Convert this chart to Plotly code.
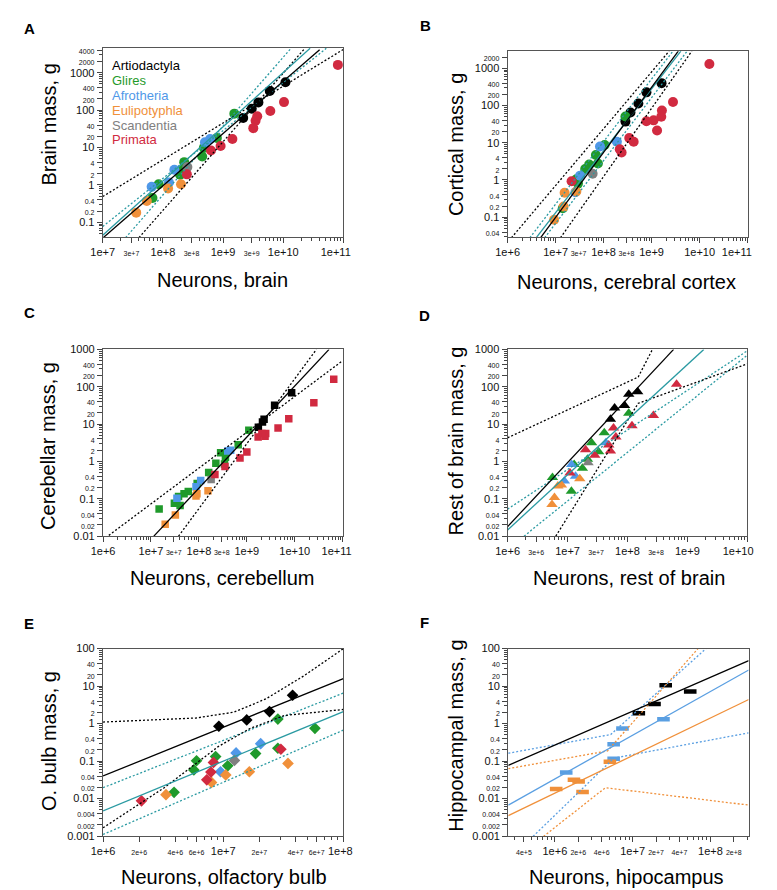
import math
import plotly.graph_objects as go

# ---------------- data (neurons, mass in g) ----------------
# A: whole brain
A_ARTIO = [(1.09e10, 555), (5.98e9, 327), (3.87e9, 161), (3.0e9, 109), (2.16e9, 62)]
A_GLIRES = [(1.54e9, 80.5), (7.9e8, 17.9), (4.8e8, 9.8), (4.5e8, 5.75), (2.26e8, 4.07),
            (1.93e8, 1.88), (2.13e8, 2.55), (8.5e7, 1.04), (6.7e7, 0.446)]
A_AFRO = [(6.1e8, 16.9), (5.0e8, 13.8), (1.55e8, 2.55), (1.26e8, 1.16), (6.5e7, 0.89)]
A_EULI = [(2.0e8, 1.04), (1.22e8, 0.80), (5.4e7, 0.372), (3.6e7, 0.182)]
A_SCAND = [(2.55e8, 3.0)]
A_PRIM = [(8.1e10, 1620), (1.03e10, 164), (6.1e9, 95), (3.7e9, 69), (3.47e9, 52), (3.18e9, 33),
          (1.43e9, 16.9), (9.1e8, 11.0), (6.3e8, 8.3), (2.5e8, 1.92)]

# B: cerebral cortex
B_ARTIO = [(1.61e9, 400), (7.8e8, 226), (5.3e8, 113), (3.63e8, 65), (2.85e8, 37)]
B_GLIRES = [(2.85e8, 51), (1.05e8, 8.7), (6.9e7, 4.7), (7.6e7, 2.79), (5.0e7, 2.62), (4.13e7, 1.97),
            (2.7e7, 1.05), (2.92e7, 0.80), (1.41e7, 0.175)]
B_AFRO = [(1.89e8, 10.7), (8.4e7, 7.9), (3.24e7, 1.31), (2.58e7, 0.47)]
B_EULI = [(1.54e7, 0.455), (2.7e7, 0.49), (1.47e7, 0.193), (9.3e6, 0.086)]
B_SCAND = [(5.9e7, 1.48)]
B_PRIM = [(1.6e10, 1303), (2.79e9, 125), (1.64e9, 73.8), (1.59e9, 50), (1.10e9, 40), (7.8e8, 37.7),
          (1.30e9, 21.3), (3.42e8, 13.4), (4.23e8, 10.7), (2.17e8, 6.7), (2.37e8, 5.46), (2.15e7, 0.93)]

# C: cerebellum
C_ARTIO = [(8.6e9, 69), (3.8e9, 31.9), (2.29e9, 13.6), (2.12e9, 11.4), (1.74e9, 8.2)]
C_GLIRES = [(1.1e9, 6.8), (6.6e8, 2.8), (2.84e8, 1.72), (3.58e8, 1.30), (3.42e8, 0.85), (2.26e8, 0.90),
            (1.6e8, 0.51), (9.2e7, 0.256), (6.0e7, 0.157), (4.9e7, 0.136), (3.76e7, 0.116),
            (3.08e7, 0.076), (4.05e7, 0.066), (1.48e7, 0.053)]
C_AFRO = [(4.0e8, 1.9), (4.6e8, 2.0), (1.09e8, 0.31), (8.7e7, 0.21), (3.48e7, 0.103)]
C_EULI = [(1.55e8, 0.164), (9.1e7, 0.136), (8.7e7, 0.119), (3.23e7, 0.0366), (1.98e7, 0.0207)]
C_SCAND = [(1.8e8, 0.33)]
C_PRIM = [(6.5e10, 158), (2.5e10, 37.5), (7.5e9, 13.9), (4.48e9, 7.9), (2.48e9, 5.6), (2.4e9, 4.7),
          (2.06e9, 5.6), (1.72e9, 4.55), (1.0e9, 1.8), (7.2e8, 1.24), (3.5e8, 0.73), (2.16e8, 0.45)]

# D: rest of brain
D_ARTIO = [(1.48e8, 73), (1.05e8, 63.5), (8.95e7, 31.3), (6.1e7, 27.1), (5.2e7, 13.6)]
D_GLIRES = [(1.05e8, 19.6), (4.1e7, 5.9), (2.52e7, 3.16), (3.3e7, 1.83), (2.15e7, 1.15), (1.77e7, 0.66),
            (1.29e7, 0.83), (5.6e6, 0.37), (1.16e7, 0.16)]
D_AFRO = [(4.36e7, 3.16), (1.17e7, 0.83), (1.36e7, 0.40), (8.85e6, 0.30)]
D_EULI = [(1.6e7, 0.347), (7.9e6, 0.236), (6.9e6, 0.222), (6.05e6, 0.109), (5.5e6, 0.070)]
D_SCAND = [(2.2e7, 0.92)]
D_PRIM = [(6.6e8, 117), (2.71e8, 17), (1.19e8, 9.1), (5.85e7, 7.9), (6.4e7, 4.55), (4.87e7, 2.74),
          (5.2e7, 1.9), (2.0e7, 2.07), (2.85e7, 1.46), (1.1e7, 0.49)]

# E: olfactory bulb
E_ARTIO = [(3.78e7, 5.7), (2.43e7, 2.1), (1.57e7, 1.25), (9.2e6, 0.85)]
E_GLIRES = [(2.85e7, 1.32), (5.8e7, 0.75), (2.85e7, 0.22), (1.86e7, 0.159), (8.65e6, 0.132),
            (6.0e6, 0.102), (1.09e7, 0.075), (5.7e6, 0.058), (3.9e6, 0.0147)]
E_AFRO = [(2.05e7, 0.291), (1.28e7, 0.165), (9.5e6, 0.052)]
E_EULI = [(3.46e7, 0.0867), (1.65e7, 0.052), (1.05e7, 0.0427), (8.0e6, 0.0269), (3.34e6, 0.0127)]
E_SCAND = [(1.24e7, 0.104)]
E_PRIM = [(3.02e7, 0.207), (8.3e6, 0.092), (7.9e6, 0.051), (7.3e6, 0.0316), (2.09e6, 0.0087)]

# F: hippocampus
F_ARTIO = [(2.66e7, 10.6), (5.5e7, 7.2), (1.91e7, 3.35), (1.2e7, 1.9)]
F_AFRO = [(2.49e7, 1.30), (7.4e6, 0.74), (5.7e6, 0.28), (5.7e6, 0.115), (1.4e6, 0.050)]
F_EULI = [(5.1e6, 0.096), (1.76e6, 0.032), (2.02e6, 0.0285), (1.04e6, 0.018), (2.27e6, 0.015)]

# fitted lines and limits
A_FIT_ARTIO = [(1e7, 0.038), (4.03e10, 4140)]
A_FIT_ALL = [(1e7, 0.045), (2.8e10, 4500)]
A_LIM_ARTIO = [[(1e7, 0.49), (1e11, 4200)], [(4.0e7, 0.039), (2.3e10, 4500)]]
A_LIM_ALL = [[(1e7, 0.078), (5.2e10, 4500)], [(2.4e7, 0.039), (1.35e10, 4500)]]

B_FIT_ARTIO = [(4.85e6, 0.028), (3.6e9, 2900)]
B_FIT_ALL = [(3.93e6, 0.028), (4.07e9, 2900)]
B_LIM_ARTIO = [[(1.2e6, 0.028), (2.32e9, 2900)], [(1.26e7, 0.028), (6.9e9, 2900)]]
B_LIM_ALL = [[(2.9e6, 0.028), (2.79e9, 2900)], [(5.9e6, 0.028), (5.5e9, 2900)]]

C_FIT_ARTIO = [(1.15e7, 0.01), (5.2e10, 1000)]
C_LIM_ARTIO = [[(1.32e6, 0.0105), (1e11, 500)], [(3.76e7, 0.01), (2.83e10, 1000)]]

D_FIT_ARTIO = [(1e6, 0.018), (5.9e8, 1000)]
D_FIT_ALL = [(1e6, 0.0147), (1.88e9, 1000)]
D_LIM_ARTIO = [[(1e6, 4.3), (1.51e8, 182), (2.61e8, 1000)], [(6.37e6, 0.01), (1.51e8, 36), (1e10, 410)]]
D_LIM_ALL = [[(1e6, 0.053), (1e10, 920)], [(1.88e6, 0.01), (1e10, 700)]]

E_FIT_ARTIO = [(1e6, 0.040), (1e8, 15.9)]
E_FIT_ALL = [(1e6, 0.0047), (1e8, 2.1)]
E_LIM_ARTIO = [[(1e6, 1.10), (5.93e6, 1.41), (1.23e7, 2.02), (2.26e7, 4.54), (4.68e7, 18.7), (1e8, 100)],
               [(1e6, 0.00166), (3.23e6, 0.0195), (9.08e6, 0.243), (1.67e7, 0.738), (3.25e7, 1.65), (1e8, 2.38)]]
E_LIM_ALL = [[(1e6, 0.0195), (1e8, 6.5)], [(1e6, 0.0011), (1e8, 0.67)]]

F_FIT_ARTIO = [(2.52e5, 0.077), (3.11e8, 48)]
F_FIT_AFRO = [(2.52e5, 0.0067), (3.11e8, 26.9)]
F_FIT_EULI = [(2.52e5, 0.0035), (3.11e8, 4.4)]
F_LIM_AFRO = [[(2.52e5, 0.162), (5.22e6, 0.51), (8.75e7, 100)], [(5.24e5, 0.00098), (5.74e6, 0.12), (3.11e8, 0.567)]]
F_LIM_EULI = [[(2.52e5, 0.0627), (4.76e6, 0.187), (6.92e7, 100)], [(7.14e5, 0.00098), (4.46e6, 0.0195), (3.11e8, 0.0067)]]

# tick labels
A_XT = [1e7, 3e7, 1e8, 3e8, 1e9, 3e9, 1e10, 1e11]
A_XL = ['1e+7', '3e+7', '1e+8', '3e+8', '1e+9', '3e+9', '1e+10', '1e+11']
A_YT = [4000, 2000, 1000, 400, 200, 100, 40, 20, 10, 4, 2, 1, 0.4, 0.2, 0.1]
A_YL = ['4000', '2000', '1000', '400', '200', '100', '40', '20', '10', '4', '2', '1', '0.4', '0.2', '0.1']
B_XT = [1e6, 1e7, 3e7, 1e8, 3e8, 1e9, 1e10, 1e11]
B_XL = ['1e+6', '1e+7', '3e+7', '1e+8', '3e+8', '1e+9', '1e+10', '1e+11']
B_YT = [2000, 1000, 400, 200, 100, 40, 20, 10, 4, 2, 1, 0.4, 0.2, 0.1, 0.04]
B_YL = ['2000', '1000', '400', '200', '100', '40', '20', '10', '4', '2', '1', '0.4', '0.2', '0.1', '0.04']
C_XT = B_XT
C_XL = B_XL
C_YT = [1000, 400, 200, 100, 40, 20, 10, 4, 2, 1, 0.4, 0.2, 0.1, 0.04, 0.02, 0.01]
C_YL = ['1000', '400', '200', '100', '40', '20', '10', '4', '2', '1', '0.4', '0.2', '0.1', '0.04', '0.02', '0.01']
D_XT = [1e6, 3e6, 1e7, 3e7, 1e8, 3e8, 1e9, 1e10]
D_XL = ['1e+6', '3e+6', '1e+7', '3e+7', '1e+8', '3e+8', '1e+9', '1e+10']
E_XT = [1e6, 2e6, 4e6, 6e6, 1e7, 2e7, 4e7, 6e7, 1e8]
E_XL = ['1e+6', '2e+6', '4e+6', '6e+6', '1e+7', '2e+7', '4e+7', '6e+7', '1e+8']
E_YT = [100, 40, 20, 10, 4, 2, 1, 0.4, 0.2, 0.1, 0.04, 0.02, 0.01, 0.004, 0.002, 0.001]
E_YL = ['100', '40', '20', '10', '4', '2', '1', '0.4', '0.2', '0.1', '0.04', '0.02', '0.01', '0.004', '0.002', '0.001']
F_XT = [4e5, 1e6, 2e6, 4e6, 1e7, 2e7, 4e7, 1e8, 2e8]
F_XL = ['4e+5', '1e+6', '2e+6', '4e+6', '1e+7', '2e+7', '4e+7', '1e+8', '2e+8']

GROUPS = ['Artiodactyla', 'Glires', 'Afrotheria', 'Eulipotyphla', 'Scandentia', 'Primata']

# ---------------- style ----------------
FONT = 'Liberation Sans, Arial, Helvetica, sans-serif'
COL = {'Artiodactyla': '#000000', 'Glires': '#1f9a2b', 'Afrotheria': '#4f98e8',
       'Eulipotyphla': '#f0903a', 'Scandentia': '#808080', 'Primata': '#d12a40'}
TEAL = '#2a9aa2'
F_BLUE = '#5a9fe2'
F_ORANGE = '#f0903a'
W, H = 777, 890

fig = go.Figure()


def px_dom(a, b, vertical=False):
    if vertical:
        return [1 - b / H, 1 - a / H]
    return [a / W, b / W]


def tick_text(vals, labels, small, last_pad=0):
    out = []
    for v, t in zip(vals, labels):
        mant = v / 10 ** math.floor(math.log10(v) + 1e-9)
        out.append(t if abs(mant - 1) < 1e-6 else f'<span style="font-size:{small}px">{t}</span>')
    # the last label of some x axes sits left of its tick so it stays inside the page
    if last_pad:
        out[-1] = out[-1] + '&nbsp;' * last_pad
    return out


def minor_vals(lo, hi):
    return [m * 10.0 ** k for k in range(math.floor(lo) - 1, math.ceil(hi) + 1) for m in range(2, 10)
            if lo <= math.log10(m * 10.0 ** k) <= hi]


def add_pts(i, pts, color, symbol, size, name):
    fig.add_trace(go.Scatter(x=[p[0] for p in pts], y=[p[1] for p in pts], mode='markers',
                             xaxis=f'x{i}', yaxis=f'y{i}', name=name, showlegend=False,
                             marker=dict(color=color, symbol=symbol, size=size, line=dict(width=0))))


def add_bars(i, pts, color):
    fig.add_trace(go.Scatter(x=[p[0] for p in pts], y=[p[1] for p in pts], mode='markers',
                             xaxis=f'x{i}', yaxis=f'y{i}', showlegend=False,
                             marker=dict(symbol='line-ew', size=9, line=dict(width=4.5, color=color))))


def add_line(i, pts, color, dotted=False):
    fig.add_trace(go.Scatter(x=[p[0] for p in pts], y=[p[1] for p in pts], mode='lines',
                             xaxis=f'x{i}', yaxis=f'y{i}', showlegend=False, hoverinfo='skip',
                             line=dict(color=color, width=1.3, dash='2px,2px' if dotted else 'solid')))


panels = [
    # idx, x-dom px, y-dom px, xrange, yrange, xt, xl, yt, yl, symbol, size, pad, data
    (1, (87, 340), (34.5, 226), (7, 11), (-1.39, 3.66), A_XT, A_XL, A_YT, A_YL, 'circle', 10, 5,
     [A_ARTIO, A_GLIRES, A_AFRO, A_EULI, A_SCAND, A_PRIM]),
    (2, (512.7, 765), (37.7, 226), (6, 11), (-1.53, 3.46), B_XT, B_XL, B_YT, B_YL, 'circle', 10, 7,
     [B_ARTIO, B_GLIRES, B_AFRO, B_EULI, B_SCAND, B_PRIM]),
    (3, (87.3, 339.3), (340, 529.3), (6, 11), (-2, 3), C_XT, C_XL, C_YT, C_YL, 'square', 7.5, 4,
     [C_ARTIO, C_GLIRES, C_AFRO, C_EULI, C_SCAND, C_PRIM]),
    (4, (512.7, 764.7), (340, 529.3), (6, 10), (-2, 3), D_XT, D_XL, C_YT, C_YL, 'triangle-up', 10, 6,
     [D_ARTIO, D_GLIRES, D_AFRO, D_EULI, D_SCAND, D_PRIM]),
    (5, (87.3, 340), (643.3, 833.3), (6, 8), (-3, 2), E_XT, E_XL, E_YT, E_YL, 'diamond', 9, 2,
     [E_ARTIO, E_GLIRES, E_AFRO, E_EULI, E_SCAND, E_PRIM]),
    (6, (513.3, 766), (643.3, 833.3), (5.40, 8.49), (-3, 2), F_XT, F_XL, E_YT, E_YL, None, 0, 0, []),
]

layout = dict(width=W, height=H, margin=dict(l=0, r=0, t=0, b=0), paper_bgcolor='white',
              plot_bgcolor='white', font=dict(family=FONT, color='#111'))
for idx, xd, yd, xr, yr, xt, xl, yt, yl, sym, size, pad, data in panels:
    for grp, pts in zip(GROUPS, data):
        add_pts(idx, pts, COL[grp], sym, size, grp)
    axis_common = dict(type='log', showline=True, mirror=True, linecolor='#555', linewidth=1.2,
                       ticks='outside', ticklen=5, tickwidth=1, tickcolor='#444', showgrid=False,
                       zeroline=False, tickmode='array')
    layout[f'xaxis{idx}'] = dict(axis_common, domain=px_dom(*xd), range=list(xr), anchor=f'y{idx}',
                                 tickvals=xt, ticktext=tick_text(xt, xl, 7, pad), tickfont=dict(size=11),
                                 minor=dict(tickvals=minor_vals(*xr), ticklen=3, ticks='outside',
                                            tickcolor='#444'))
    layout[f'yaxis{idx}'] = dict(axis_common, domain=px_dom(*yd, vertical=True), range=list(yr),
                                 anchor=f'x{idx}', tickvals=yt, ticktext=tick_text(yt, yl, 7),
                                 tickfont=dict(size=11),
                                 minor=dict(tickvals=minor_vals(*yr), ticklen=3, ticks='outside',
                                            tickcolor='#444'))

# hippocampus bars
add_bars(6, F_ARTIO, COL['Artiodactyla'])
add_bars(6, F_AFRO, F_BLUE)
add_bars(6, F_EULI, F_ORANGE)

# lines on top of markers
for i, fit_a, fit_all, lim_a, lim_all in [
    (1, A_FIT_ARTIO, A_FIT_ALL, A_LIM_ARTIO, A_LIM_ALL),
    (2, B_FIT_ARTIO, B_FIT_ALL, B_LIM_ARTIO, B_LIM_ALL),
    (3, C_FIT_ARTIO, None, C_LIM_ARTIO, []),
    (4, D_FIT_ARTIO, D_FIT_ALL, D_LIM_ARTIO, D_LIM_ALL),
    (5, E_FIT_ARTIO, E_FIT_ALL, E_LIM_ARTIO, E_LIM_ALL),
]:
    for seg in lim_all:
        add_line(i, seg, TEAL, dotted=True)
    for seg in lim_a:
        add_line(i, seg, '#000', dotted=True)
    if fit_all:
        add_line(i, fit_all, TEAL)
    add_line(i, fit_a, '#000')

for seg in F_LIM_AFRO:
    add_line(6, seg, F_BLUE, dotted=True)
for seg in F_LIM_EULI:
    add_line(6, seg, F_ORANGE, dotted=True)
add_line(6, F_FIT_ARTIO, '#000')
add_line(6, F_FIT_AFRO, F_BLUE)
add_line(6, F_FIT_EULI, F_ORANGE)

ann = []
# panel letters
for letter, x, y in [('A', 10.5, 14.5), ('B', 426.7, 12), ('C', 9.5, 303), ('D', 425.7, 305.7),
                     ('E', 9, 617.5), ('F', 425.5, 616.7)]:
    ann.append(dict(text=f'<b>{letter}</b>', x=x / W, y=1 - y / H, xref='paper', yref='paper',
                    showarrow=False, font=dict(size=15, family=FONT, color='#000'),
                    xanchor='center', yanchor='middle'))
# axis titles
for text, x, y, rot in [
    ('Neurons, brain', 212.5, 270, 0), ('Brain mass, g', 30, 112.5, -90),
    ('Neurons, cerebral cortex', 637.5, 271.7, 0), ('Cortical mass, g', 458.3, 132, -90),
    ('Neurons, cerebellum', 212.5, 571.7, 0), ('Cerebellar mass, g', 30, 438.3, -90),
    ('Neurons, rest of brain', 640, 571.7, 0), ('Rest of brain mass, g', 458.3, 432.5, -90),
    ('Neurons, olfactory bulb', 215, 875, 0), ('O. bulb mass, g', 30, 737.5, -90),
    ('Neurons, hipocampus', 637.5, 875, 0), ('Hippocampal mass, g', 458.3, 731.7, -90),
]:
    ann.append(dict(text=text, x=x / W, y=1 - y / H, xref='paper', yref='paper', showarrow=False,
                    textangle=rot, font=dict(size=20, family=FONT, color='#000'),
                    xanchor='center', yanchor='middle'))
# legend of panel A
for k, grp in enumerate(GROUPS):
    ann.append(dict(text=grp, x=95 / W, y=1 - (52.7 + 15 * k) / H, xref='paper', yref='paper',
                    showarrow=False, font=dict(size=13, family=FONT, color=COL[grp]),
                    xanchor='left', yanchor='middle'))

layout['annotations'] = ann
fig.update_layout(**layout)
fig.write_html('out.html')
